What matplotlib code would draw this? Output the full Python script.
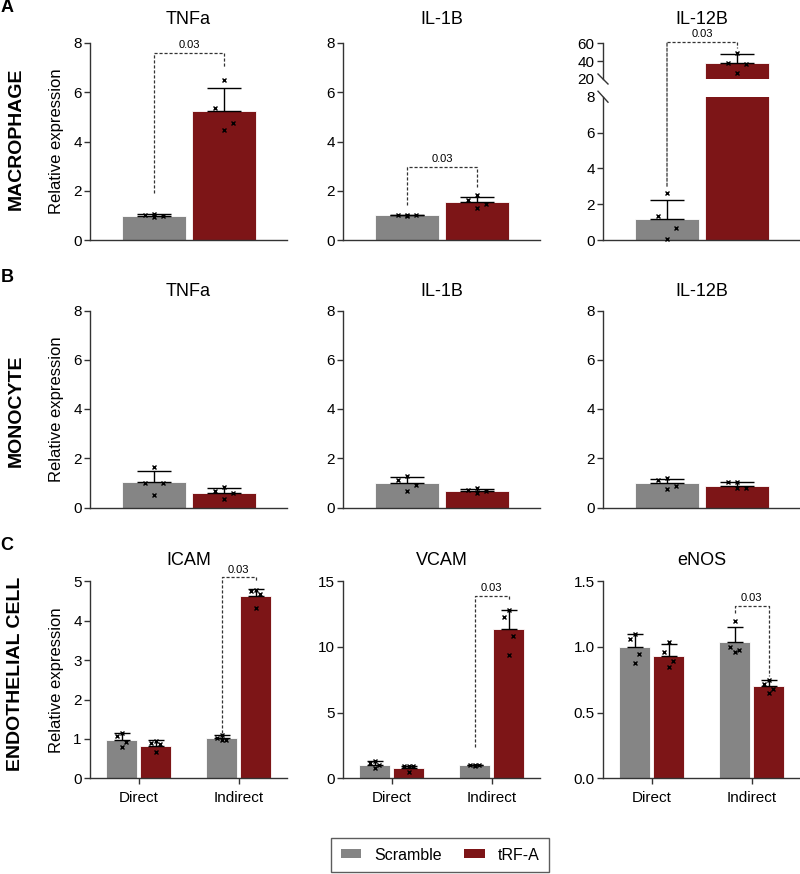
import matplotlib
matplotlib.use("Agg")
import matplotlib.pyplot as plt
from matplotlib.patches import Patch, ConnectionPatch

plt.rcParams["font.family"] = ["Liberation Sans", "DejaVu Sans"]

GRAY = "#858585"
RED = "#7d1517"
LINE = "#333333"

series = ["Scramble", "tRF-A"]
genes_top = ["TNFa", "IL-1B", "IL-12B"]
genes_endo = ["ICAM", "VCAM", "eNOS"]
groups_endo = ["Direct", "Indirect"]
p_text = "0.03"

# macrophage, per gene: [scramble, tRF-A]
mac_mean = [[0.98, 5.25], [1.00, 1.55], [1.16, 37.6]]
mac_err = [[0.07, 0.93], [0.02, 0.21], [1.10, 10.1]]
mac_pts = [
    [[1.05, 1.03, 0.97, 0.92], [6.50, 5.35, 4.75, 4.45]],
    [[1.01, 1.00, 1.00, 0.99], [1.83, 1.62, 1.46, 1.29]],
    [[2.60, 1.34, 0.67, 0.04], [48.8, 38.3, 36.8, 26.4]],
]
# significance bracket: leg start (scramble), top, leg end (tRF-A)
mac_sig = [[1.9, 7.6, 7.0], [1.42, 2.97, 2.15], [3.0, 61.5, 54.4]]

# monocyte
mon_mean = [[1.02, 0.59], [0.98, 0.67], [0.98, 0.89]]
mon_err = [[0.47, 0.21], [0.25, 0.10], [0.17, 0.14]]
mon_pts = [
    [[1.65, 1.00, 0.98, 0.51], [0.85, 0.65, 0.57, 0.33]],
    [[1.28, 1.11, 0.91, 0.69], [0.80, 0.73, 0.67, 0.59]],
    [[1.18, 1.10, 0.88, 0.74], [1.03, 1.02, 0.80, 0.78]],
]

# endothelial cell, per gene: [Direct, Indirect]
endo_scr_mean = [[0.98, 1.02], [0.99, 1.00], [1.00, 1.04]]
endo_scr_err = [[0.16, 0.08], [0.31, 0.05], [0.10, 0.11]]
endo_trf_mean = [[0.83, 4.63], [0.76, 11.35], [0.93, 0.70]]
endo_trf_err = [[0.13, 0.17], [0.19, 1.50], [0.09, 0.05]]
endo_scr_pts = [
    [[1.16, 1.08, 0.91, 0.79], [1.10, 1.02, 0.98, 0.97]],
    [[1.35, 1.20, 1.00, 0.80], [1.05, 1.03, 1.00, 0.90]],
    [[1.10, 1.06, 0.95, 0.88], [1.20, 1.00, 0.98, 0.96]],
]
endo_trf_pts = [
    [[0.95, 0.89, 0.87, 0.68], [4.78, 4.75, 4.68, 4.33]],
    [[0.95, 0.93, 0.92, 0.45], [12.8, 12.3, 10.8, 9.4]],
    [[1.04, 0.96, 0.89, 0.85], [0.75, 0.72, 0.68, 0.65]],
]
endo_sig = [[1.15, 5.1, 4.97], [2.4, 13.9, 13.5], [1.26, 1.315, 0.776]]
endo_yticks = [[0, 1, 2, 3, 4, 5], [0, 5, 10, 15], [0.0, 0.5, 1.0, 1.5]]
endo_ylabels = [["0", "1", "2", "3", "4", "5"], ["0", "5", "10", "15"],
                ["0.0", "0.5", "1.0", "1.5"]]

JITTER = [0.0, -0.14, 0.14, 0.0]

W, H = 800, 874
col_left = [90, 343, 603]
ax_w = 197
row_bottom = {"A": 240, "B": 507.5, "C": 778.3}
ax_h = 197


def px_rect(left, bottom, width, height):
    return [left / W, 1 - bottom / H, width / W, height / H]


def style_axes(ax, xticks=False):
    for s in ["top", "right"]:
        ax.spines[s].set_visible(False)
    for s in ["left", "bottom"]:
        ax.spines[s].set_color(LINE)
        ax.spines[s].set_linewidth(1.0)
    ax.tick_params(axis="y", length=4, width=1, color=LINE, labelsize=11, pad=2)
    if xticks:
        ax.tick_params(axis="x", length=4, width=1, color=LINE, labelsize=11, pad=5)
    else:
        ax.tick_params(axis="x", length=0, labelbottom=False)


def bar_with_points(ax, x, mean, err, pts, color, width, capsize, show_marks=True):
    ax.bar(x, mean, width, color=color, edgecolor="white", linewidth=0.6, zorder=1)
    if not show_marks:
        return
    ax.errorbar(x, mean, yerr=[[0], [err]], color="black", elinewidth=1.0,
                capsize=capsize, capthick=1.0, zorder=2)
    ax.plot([x + j * width for j in JITTER], pts, ls="none", marker="x", ms=3.5,
            mew=1.0, color="black", zorder=3, clip_on=False)


def p_label(ax, x, top):
    ax.annotate(p_text, (x, top), xytext=(0, 2), textcoords="offset points",
                ha="center", va="bottom", fontsize=8, annotation_clip=False)


def sig_bracket(ax, x1, x2, start, top, end):
    ax.plot([x1, x1, x2, x2], [start, top, top, end], ls=(0, (2.5, 1.5)), lw=0.9,
            color=LINE, clip_on=False)
    p_label(ax, (x1 + x2) / 2, top)


fig = plt.figure(figsize=(W / 100, H / 100), dpi=100)

# rows A and B: one group, bars at 0 and 1
bw = 64 / 70
xlim_ab = (-64 / 70, (ax_w - 64) / 70)
rows_ab = [("A", mac_mean, mac_err, mac_pts, 14), ("B", mon_mean, mon_err, mon_pts, 10.2)]

for row, means, errs, pts, tpad in rows_ab:
    for i, gene in enumerate(genes_top):
        broken = row == "A" and gene == "IL-12B"
        if not broken:
            ax = fig.add_axes(px_rect(col_left[i], row_bottom[row], ax_w, ax_h))
            style_axes(ax)
            for k, c in enumerate([GRAY, RED]):
                bar_with_points(ax, k, means[i][k], errs[i][k], pts[i][k], c, bw, 12)
            ax.set_xlim(*xlim_ab)
            ax.set_ylim(0, 8)
            ax.set_yticks([0, 2, 4, 6, 8])
            ax.set_title(gene, fontsize=13, pad=tpad)
            if row == "A":
                sig_bracket(ax, 0, 1, *mac_sig[i])
            if i == 0:
                ax.set_ylabel("Relative expression", fontsize=12)
                ax.yaxis.set_label_coords(-0.13, 0.5)
            continue

        # broken y axis for macrophage IL-12B
        ax_lo = fig.add_axes(px_rect(col_left[i], 240, ax_w, 143.3))
        ax_hi = fig.add_axes(px_rect(col_left[i], 79, ax_w, 35.7))
        style_axes(ax_lo)
        style_axes(ax_hi)
        ax_hi.spines["bottom"].set_visible(False)
        for ax, lim, ticks in [(ax_lo, (0, 8), [0, 2, 4, 6, 8]), (ax_hi, (20, 60), [20, 40, 60])]:
            for k, c in enumerate([GRAY, RED]):
                inside = lim[0] <= means[i][k] <= lim[1]
                bar_with_points(ax, k, means[i][k], errs[i][k], pts[i][k], c, bw, 12,
                                show_marks=inside)
            ax.set_xlim(*xlim_ab)
            ax.set_ylim(*lim)
            ax.set_yticks(ticks)
        ax_lo.yaxis.get_major_ticks()[-1].tick1line.set_visible(False)
        ax_hi.yaxis.get_major_ticks()[0].tick1line.set_visible(False)
        ax_hi.set_title(gene, fontsize=13, pad=tpad)
        dx = 5 / ax_w
        ax_hi.plot([-dx, dx], [5 / 35.7, -5 / 35.7], transform=ax_hi.transAxes,
                   color=LINE, lw=1, clip_on=False)
        ax_lo.plot([-dx, dx], [1 + 5.5 / 143.3, 1 - 5.5 / 143.3], transform=ax_lo.transAxes,
                   color=LINE, lw=1, clip_on=False)
        start, top, end = mac_sig[i]
        con = ConnectionPatch(xyA=(0, start), coordsA=ax_lo.transData,
                              xyB=(0, top), coordsB=ax_hi.transData,
                              ls=(0, (2.5, 1.5)), lw=0.9, color=LINE)
        fig.add_artist(con)
        ax_hi.plot([0, 1, 1], [top, top, end], ls=(0, (2.5, 1.5)), lw=0.9,
                   color=LINE, clip_on=False)
        p_label(ax_hi, 0.5, top)

# row C: two groups
cw = 0.31
off = 0.17
for i, gene in enumerate(genes_endo):
    ax = fig.add_axes(px_rect(col_left[i], row_bottom["C"], ax_w, ax_h))
    style_axes(ax, xticks=True)
    for g in range(len(groups_endo)):
        bar_with_points(ax, g - off, endo_scr_mean[i][g], endo_scr_err[i][g],
                        endo_scr_pts[i][g], GRAY, cw, 5.5)
        bar_with_points(ax, g + off, endo_trf_mean[i][g], endo_trf_err[i][g],
                        endo_trf_pts[i][g], RED, cw, 5.5)
    ax.set_xlim(-0.485, 1.485)
    ax.set_xticks(range(len(groups_endo)))
    ax.set_xticklabels(groups_endo)
    ax.set_ylim(0, endo_yticks[i][-1])
    ax.set_yticks(endo_yticks[i])
    ax.set_yticklabels(endo_ylabels[i])
    ax.set_title(gene, fontsize=13, pad=12)
    sig_bracket(ax, 1 - off, 1 + off, *endo_sig[i])
    if i == 0:
        ax.set_ylabel("Relative expression", fontsize=12)
        ax.yaxis.set_label_coords(-0.13, 0.5)

# panel letters and row labels
for letter, y in [("A", 8), ("B", 278), ("C", 545)]:
    fig.text(7 / W, 1 - y / H, letter, ha="center", va="center", fontsize=13, weight="bold")
for label, y in [("MACROPHAGE", 139), ("MONOCYTE", 411), ("ENDOTHELIAL CELL", 674)]:
    fig.text(16 / W, 1 - y / H, label, rotation=90, ha="center", va="center",
             fontsize=14, weight="bold")

handles = [Patch(facecolor=GRAY, label=series[0]), Patch(facecolor=RED, label=series[1])]
leg = fig.legend(handles=handles, loc="center", bbox_to_anchor=(440 / W, 1 - 855 / H),
                 ncol=2, frameon=True, fancybox=False, edgecolor=LINE, fontsize=11.5,
                 handlelength=1.3, handleheight=0.5, columnspacing=1.4, borderpad=0.6)
leg.get_frame().set_linewidth(1.0)

fig.savefig("out.png", dpi=100)
